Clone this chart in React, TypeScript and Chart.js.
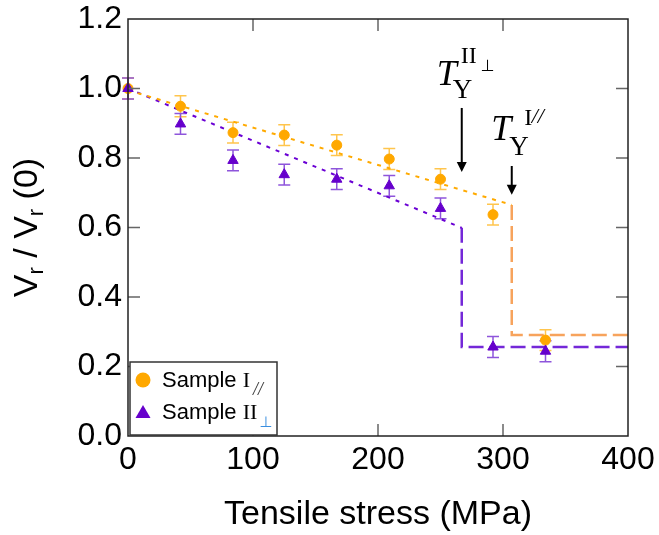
import React, { useEffect, useRef } from "react";
import { Chart, registerables } from "chart.js";
Chart.register(...registerables);

// ---- data ----
const stress = [0, 42, 84, 125, 167, 209, 250, 292, 334];
const sampleI = [1.0, 0.949, 0.873, 0.866, 0.837, 0.797, 0.739, 0.637, 0.276];
const sampleIErr = [0.03, 0.03, 0.03, 0.03, 0.03, 0.03, 0.03, 0.03, 0.03];
const sampleII = [1.0, 0.898, 0.793, 0.752, 0.739, 0.72, 0.655, 0.256, 0.244];
const sampleIIErr = [0.03, 0.03, 0.03, 0.03, 0.03, 0.03, 0.03, 0.03, 0.03];

const fitIStress = [0, 307];
const fitIValue = [0.995, 0.665];
const stepIStress = [307, 307, 400];
const stepIValue = [0.665, 0.291, 0.291];
const fitIIStress = [0, 267];
const fitIIValue = [1.0, 0.599];
const stepIIStress = [267, 267, 400];
const stepIIValue = [0.599, 0.256, 0.256];

const xTickValues = [0, 100, 200, 300, 400];
const yTickValues = [0, 0.2, 0.4, 0.6, 0.8, 1.0, 1.2];

const arrowStress = [267, 307];
const arrowFrom = [0.944, 0.777];
const arrowTo = [0.76, 0.694];

const xTitle = "Tensile stress (MPa)";
const legendLabels = ["Sample ", "Sample "];

const SANS = '"Liberation Sans", Arial, sans-serif';
const SERIF = '"Liberation Serif", "Times New Roman", serif';
const SYM = '"DejaVu Sans", sans-serif';

const ORANGE = "#FFA800";
const ORANGE_ERR = "#FFC54D";
const ORANGE_FIT = "#FFAA00";
const ORANGE_STEP = "#F7A35C";
const PURPLE = "#6600CC";
const PURPLE_ERR = "#8E55DB";
const PURPLE_FIT = "#6A00D4";
const PURPLE_STEP = "#7428D8";

const pts = (xs: number[], ys: number[]) => xs.map((x, i) => ({ x, y: ys[i] }));

function txt(ctx: CanvasRenderingContext2D, s: string, x: number, y: number, font: string, color = "#000") {
  ctx.font = font;
  ctx.fillStyle = color;
  ctx.fillText(s, x, y);
  return ctx.measureText(s).width;
}

const errorBarPlugin = {
  id: "errorBars",
  beforeDatasetsDraw(chart: any) {
    const { ctx, scales } = chart;
    const x = scales.x, y = scales.y;
    const series = [
      { ys: sampleI, es: sampleIErr, color: ORANGE_ERR },
      { ys: sampleII, es: sampleIIErr, color: PURPLE_ERR },
    ];
    ctx.save();
    ctx.lineWidth = 1.5;
    for (const s of series) {
      ctx.strokeStyle = s.color;
      ctx.beginPath();
      stress.forEach((sv, i) => {
        const px = x.getPixelForValue(sv);
        const top = y.getPixelForValue(s.ys[i] + s.es[i]);
        const bot = y.getPixelForValue(s.ys[i] - s.es[i]);
        ctx.moveTo(px, top);
        ctx.lineTo(px, bot);
        ctx.moveTo(px - 6, top);
        ctx.lineTo(px + 6, top);
        ctx.moveTo(px - 6, bot);
        ctx.lineTo(px + 6, bot);
      });
      ctx.stroke();
    }
    ctx.restore();
  },
};

const framePlugin = {
  id: "frame",
  afterDatasetsDraw(chart: any) {
    const { ctx, chartArea: a, scales } = chart;
    const x = scales.x, y = scales.y;
    const TL = 12;
    ctx.save();
    ctx.strokeStyle = "#666";
    ctx.lineWidth = 1.5;
    ctx.beginPath();
    for (const v of xTickValues) {
      if (v === xTickValues[0] || v === xTickValues[xTickValues.length - 1]) continue;
      const px = x.getPixelForValue(v);
      ctx.moveTo(px, a.bottom);
      ctx.lineTo(px, a.bottom - TL);
      ctx.moveTo(px, a.top);
      ctx.lineTo(px, a.top + TL);
    }
    for (const v of yTickValues) {
      if (v === yTickValues[0] || v === yTickValues[yTickValues.length - 1]) continue;
      const py = y.getPixelForValue(v);
      ctx.moveTo(a.left, py);
      ctx.lineTo(a.left + TL, py);
      ctx.moveTo(a.right, py);
      ctx.lineTo(a.right - TL, py);
    }
    ctx.stroke();
    ctx.strokeStyle = "#222";
    ctx.lineWidth = 1.5;
    ctx.strokeRect(a.left, a.top, a.right - a.left, a.bottom - a.top);
    ctx.restore();
  },
  afterDraw(chart: any) {
    const { ctx, chartArea: a, scales } = chart;
    const x = scales.x, y = scales.y;
    ctx.save();
    ctx.textAlign = "left";
    ctx.textBaseline = "alphabetic";

    // arrows
    const heads: { X: number; top: number }[] = [];
    arrowStress.forEach((s, i) => {
      const X = x.getPixelForValue(s);
      const top = y.getPixelForValue(arrowFrom[i]);
      const tip = y.getPixelForValue(arrowTo[i]);
      heads.push({ X, top });
      ctx.strokeStyle = "#000";
      ctx.lineWidth = 2;
      ctx.beginPath();
      ctx.moveTo(X, top);
      ctx.lineTo(X, tip - 8);
      ctx.stroke();
      ctx.fillStyle = "#000";
      ctx.beginPath();
      ctx.moveTo(X - 5, tip - 10);
      ctx.lineTo(X + 5, tip - 10);
      ctx.lineTo(X, tip);
      ctx.closePath();
      ctx.fill();
    });

    // annotation 1: T_Y^{II⊥}
    {
      const { X, top } = heads[0];
      txt(ctx, "T", X - 25, top - 23, `italic 36px ${SERIF}`);
      txt(ctx, "Y", X - 9, top - 10, `27px ${SERIF}`);
      txt(ctx, "II", X - 1, top - 45, `24px ${SERIF}`);
      txt(ctx, "⊥", X + 19, top - 37, `16px ${SYM}`);
    }
    // annotation 2: T_Y^{I//}
    {
      const { X, top } = heads[1];
      txt(ctx, "T", X - 20.5, top - 26, `italic 36px ${SERIF}`);
      txt(ctx, "Y", X - 2.5, top - 11, `27px ${SERIF}`);
      txt(ctx, "I", X + 12.5, top - 41, `24px ${SERIF}`);
      txt(ctx, "//", X + 20, top - 43, `italic 22px ${SERIF}`);
    }

    // legend
    const lx = a.left + 2, ly = a.bottom - 74, lw = 147, lh = 73;
    ctx.fillStyle = "#fff";
    ctx.fillRect(lx, ly, lw, lh);
    ctx.strokeStyle = "#333";
    ctx.lineWidth = 1.5;
    ctx.strokeRect(lx, ly, lw, lh);

    ctx.fillStyle = ORANGE;
    ctx.beginPath();
    ctx.arc(lx + 13, ly + 18, 7.5, 0, Math.PI * 2);
    ctx.fill();
    let cx = lx + 32;
    cx += txt(ctx, legendLabels[0], cx, ly + 25, `22px ${SANS}`);
    cx += txt(ctx, "I", cx, ly + 25, `22px ${SERIF}`);
    txt(ctx, "//", cx + 3, ly + 33, `italic 18px ${SERIF}`, "#333");

    ctx.fillStyle = PURPLE;
    ctx.beginPath();
    ctx.moveTo(lx + 13, ly + 43);
    ctx.lineTo(lx + 20.5, ly + 56);
    ctx.lineTo(lx + 5.5, ly + 56);
    ctx.closePath();
    ctx.fill();
    cx = lx + 32;
    cx += txt(ctx, legendLabels[1], cx, ly + 57, `22px ${SANS}`);
    cx += txt(ctx, "II", cx, ly + 57, `22px ${SERIF}`);
    txt(ctx, "⊥", cx + 2, ly + 65, `15px ${SYM}`, "#3B8FE0");

    // y-axis title
    ctx.translate(37, (a.top + a.bottom) / 2);
    ctx.rotate(-Math.PI / 2);
    const runs = [
      { s: "V", f: `34px ${SANS}`, dy: 0 },
      { s: "r", f: `22px ${SANS}`, dy: 6 },
      { s: " / V", f: `34px ${SANS}`, dy: 0 },
      { s: "r", f: `22px ${SANS}`, dy: 6 },
      { s: " (0)", f: `34px ${SANS}`, dy: 0 },
    ];
    let total = 0;
    for (const r of runs) {
      ctx.font = r.f;
      total += ctx.measureText(r.s).width;
    }
    let tx = -total / 2;
    for (const r of runs) tx += txt(ctx, r.s, tx, r.dy, r.f);
    ctx.restore();
  },
};

export default function App() {
  const ref = useRef<HTMLCanvasElement | null>(null);
  useEffect(() => {
    if (!ref.current) return;
    const chart = new Chart(ref.current, {
      type: "scatter",
      data: {
        datasets: [
          {
            label: "Sample II",
            data: pts(stress, sampleII),
            pointStyle: "triangle",
            pointRadius: 6,
            pointBackgroundColor: PURPLE,
            pointBorderColor: PURPLE,
            pointBorderWidth: 1,
            showLine: false,
            clip: false,
            order: 0,
          },
          {
            label: "Sample I",
            data: pts(stress, sampleI),
            pointStyle: "circle",
            pointRadius: 5,
            pointBackgroundColor: ORANGE,
            pointBorderColor: ORANGE,
            pointBorderWidth: 1,
            showLine: false,
            clip: false,
            order: 1,
          },
          {
            label: "fit I",
            data: pts(fitIStress, fitIValue),
            showLine: true,
            borderColor: ORANGE_FIT,
            borderWidth: 2,
            borderDash: [4, 6],
            pointRadius: 0,
            order: 2,
          },
          {
            label: "fit II",
            data: pts(fitIIStress, fitIIValue),
            showLine: true,
            borderColor: PURPLE_FIT,
            borderWidth: 2,
            borderDash: [4, 6],
            pointRadius: 0,
            order: 3,
          },
          {
            label: "step I",
            data: pts(stepIStress, stepIValue),
            showLine: true,
            borderColor: ORANGE_STEP,
            borderWidth: 2.5,
            borderDash: [15, 6],
            pointRadius: 0,
            order: 4,
          },
          {
            label: "step II",
            data: pts(stepIIStress, stepIIValue),
            showLine: true,
            borderColor: PURPLE_STEP,
            borderWidth: 2.5,
            borderDash: [15, 6],
            pointRadius: 0,
            order: 5,
          },
        ],
      },
      options: {
        animation: false,
        responsive: false,
        devicePixelRatio: 1,
        layout: { padding: { top: 19, right: 31, left: 0, bottom: 0 } },
        plugins: { legend: { display: false }, tooltip: { enabled: false } },
        scales: {
          x: {
            type: "linear",
            min: 0,
            max: 400,
            afterBuildTicks: (s: any) => {
              s.ticks = xTickValues.map((v) => ({ value: v }));
            },
            afterFit: (s: any) => {
              s.height = 99;
              s.paddingLeft = 0;
              s.paddingRight = 0;
            },
            grid: { display: false, drawTicks: false },
            border: { display: false },
            ticks: {
              font: { family: SANS, size: 32 },
              color: "#000",
              padding: 5,
              maxRotation: 0,
              autoSkip: false,
            },
            title: {
              display: true,
              text: xTitle,
              font: { family: SANS, size: 34 },
              color: "#000",
              padding: { top: 0, bottom: 0 },
            },
          },
          y: {
            type: "linear",
            min: 0,
            max: 1.2,
            afterBuildTicks: (s: any) => {
              s.ticks = yTickValues.map((v) => ({ value: v }));
            },
            afterFit: (s: any) => {
              s.width = 128;
              s.paddingTop = 0;
              s.paddingBottom = 0;
            },
            grid: { display: false, drawTicks: false },
            border: { display: false },
            ticks: {
              font: { family: SANS, size: 32 },
              color: "#000",
              padding: 6,
              autoSkip: false,
              callback: (v: any) => Number(v).toFixed(1),
            },
            title: { display: false },
          },
        },
      },
      plugins: [errorBarPlugin, framePlugin],
    } as any);
    return () => chart.destroy();
  }, []);
  return (
    <div style={{ position: "absolute", left: 0, top: 0, width: 659, height: 535, background: "#fff" }}>
      <canvas ref={ref} width={659} height={535} style={{ display: "block", width: 659, height: 535 }} />
    </div>
  );
}
